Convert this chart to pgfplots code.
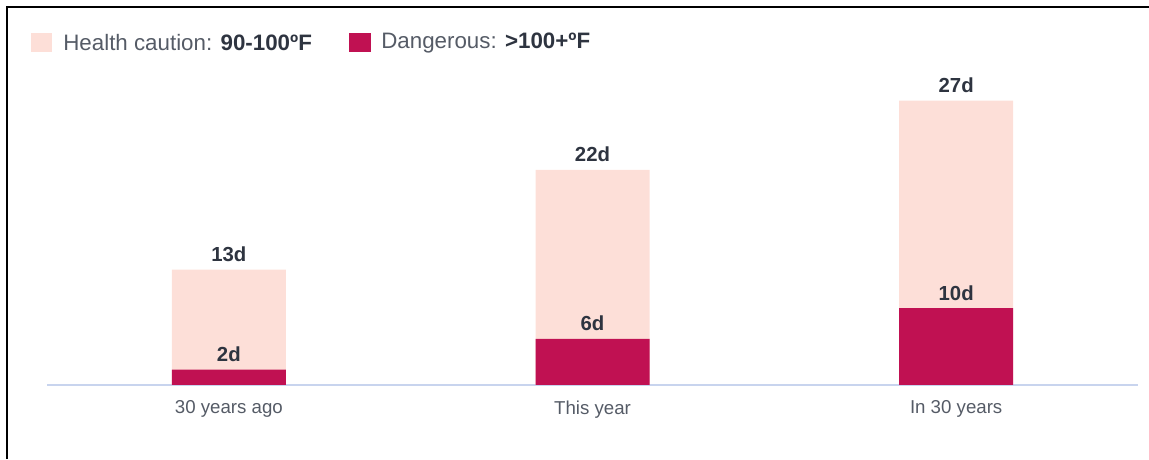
\documentclass[border=0pt]{standalone}
\usepackage{pgfplots}
\pgfplotsset{compat=1.18}
\usepackage{fontspec}
\setmainfont{Liberation Sans}
\definecolor{caution}{HTML}{FDDFD8}
\definecolor{danger}{HTML}{C01152}
\definecolor{lbl}{HTML}{2E3440}
\definecolor{tick}{HTML}{555B66}
\definecolor{base}{HTML}{C8D4EE}
\begin{document}
\begin{tikzpicture}
\useasboundingbox (0,0) rectangle (689.4pt,275.4pt);
\draw[black, line width=1.3pt] (4.2pt,0) -- (4.2pt,271.2pt) -- (689.4pt,271.2pt);
% legend
\fill[caution] (18.6pt,244.2pt) rectangle (31.2pt,255.6pt);
\node[anchor=west, inner sep=0, text=tick, font=\fontsize{13.4}{15}\selectfont] at (37.8pt,249.6pt) {Health caution: \textbf{\color{lbl}90-100ºF}};
\fill[danger] (209.4pt,244.2pt) rectangle (222.6pt,255.6pt);
\node[anchor=west, inner sep=0, text=tick, font=\fontsize{13.4}{15}\selectfont] at (228.6pt,249.6pt) {Dangerous: \textbf{\color{lbl}>100+ºF}};
\begin{axis}[
  at={(28.2pt,44.4pt)}, anchor=south west,
  scale only axis, width=654.6pt, height=195pt,
  ybar=0pt, bar width=68.4pt, bar shift=0pt,
  xmin=-0.5, xmax=2.5, ymin=0, ymax=42.3,
  xtick={0,1,2}, xticklabels={30 years ago, This year, In 30 years},
  major tick length=0pt,
  axis x line*=bottom, axis y line=none,
  x axis line style={base, line width=0.9pt, -},
  ytick=\empty,
  xticklabel style={text=tick, font=\fontsize{11.2}{13}\selectfont, yshift=-6pt},
  point meta=explicit symbolic,
  nodes near coords={\textbf{\pgfplotspointmeta d}},
  every node near coord/.append style={text=lbl, font=\fontsize{12.2}{14}\selectfont, anchor=south, inner sep=0pt, yshift=4.5pt},
  clip=false,
]
% Health caution (13, 22, 27 days) stacked on top of dangerous days; bar top = sum
\addplot[fill=caution, draw=none] coordinates {(0,15) [13] (1,28) [22] (2,37) [27]};
\addplot[fill=danger, draw=none] coordinates {(0,2) [2] (1,6) [6] (2,10) [10]};
\end{axis}
\end{tikzpicture}
\end{document}
